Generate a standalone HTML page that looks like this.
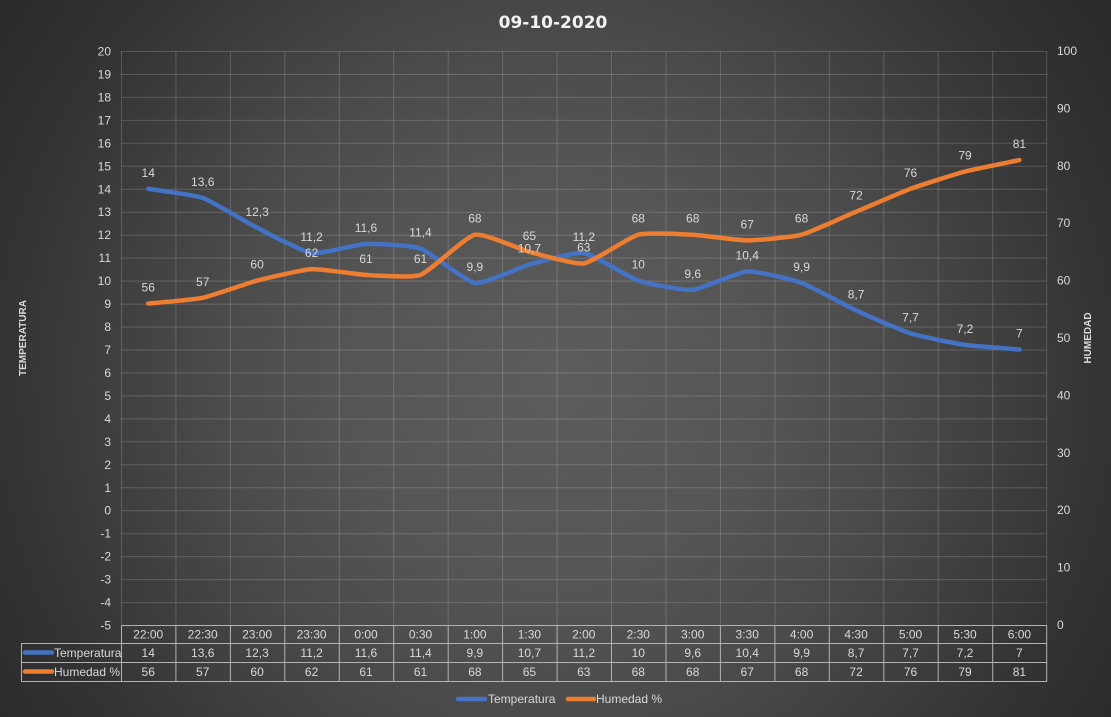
<!DOCTYPE html>
<html><head><meta charset="utf-8"><style>
html,body{margin:0;padding:0;}
body{width:1111px;height:717px;overflow:hidden;background:#3a3a3a;}
svg{display:block;font-family:"Liberation Sans","DejaVu Sans",sans-serif;}
</style></head><body>
<svg width="1111" height="717" viewBox="0 0 1111 717" xmlns="http://www.w3.org/2000/svg">
<defs>
<radialGradient id="bg" gradientUnits="userSpaceOnUse" cx="555" cy="380" r="690">
<stop offset="0" stop-color="#5c5c5c"/>
<stop offset="0.3" stop-color="#555555"/>
<stop offset="0.5" stop-color="#4a4a4a"/>
<stop offset="0.8" stop-color="#333333"/>
<stop offset="1" stop-color="#292929"/>
</radialGradient>
</defs>
<rect x="0" y="0" width="1111" height="717" fill="url(#bg)"/>

<!-- horizontal gridlines -->
<g stroke="rgba(255,255,255,0.17)" stroke-width="1">
<line x1="121" y1="51.5" x2="1046.7" y2="51.5"/>
<line x1="121" y1="74.5" x2="1046.7" y2="74.5"/>
<line x1="121" y1="97.4" x2="1046.7" y2="97.4"/>
<line x1="121" y1="120.4" x2="1046.7" y2="120.4"/>
<line x1="121" y1="143.3" x2="1046.7" y2="143.3"/>
<line x1="121" y1="166.3" x2="1046.7" y2="166.3"/>
<line x1="121" y1="189.3" x2="1046.7" y2="189.3"/>
<line x1="121" y1="212.2" x2="1046.7" y2="212.2"/>
<line x1="121" y1="235.2" x2="1046.7" y2="235.2"/>
<line x1="121" y1="258.1" x2="1046.7" y2="258.1"/>
<line x1="121" y1="281.1" x2="1046.7" y2="281.1"/>
<line x1="121" y1="304.1" x2="1046.7" y2="304.1"/>
<line x1="121" y1="327.0" x2="1046.7" y2="327.0"/>
<line x1="121" y1="350.0" x2="1046.7" y2="350.0"/>
<line x1="121" y1="373.0" x2="1046.7" y2="373.0"/>
<line x1="121" y1="395.9" x2="1046.7" y2="395.9"/>
<line x1="121" y1="418.9" x2="1046.7" y2="418.9"/>
<line x1="121" y1="441.8" x2="1046.7" y2="441.8"/>
<line x1="121" y1="464.8" x2="1046.7" y2="464.8"/>
<line x1="121" y1="487.8" x2="1046.7" y2="487.8"/>
<line x1="121" y1="510.7" x2="1046.7" y2="510.7"/>
<line x1="121" y1="533.7" x2="1046.7" y2="533.7"/>
<line x1="121" y1="556.6" x2="1046.7" y2="556.6"/>
<line x1="121" y1="579.6" x2="1046.7" y2="579.6"/>
<line x1="121" y1="602.6" x2="1046.7" y2="602.6"/>
</g>
<!-- vertical gridlines -->
<g stroke="rgba(255,255,255,0.17)" stroke-width="1">
<line x1="121.5" y1="51" x2="121.5" y2="625"/>
<line x1="175.9" y1="51" x2="175.9" y2="625"/>
<line x1="230.4" y1="51" x2="230.4" y2="625"/>
<line x1="284.8" y1="51" x2="284.8" y2="625"/>
<line x1="339.3" y1="51" x2="339.3" y2="625"/>
<line x1="393.7" y1="51" x2="393.7" y2="625"/>
<line x1="448.2" y1="51" x2="448.2" y2="625"/>
<line x1="502.6" y1="51" x2="502.6" y2="625"/>
<line x1="557.1" y1="51" x2="557.1" y2="625"/>
<line x1="611.5" y1="51" x2="611.5" y2="625"/>
<line x1="666.0" y1="51" x2="666.0" y2="625"/>
<line x1="720.4" y1="51" x2="720.4" y2="625"/>
<line x1="774.9" y1="51" x2="774.9" y2="625"/>
<line x1="829.3" y1="51" x2="829.3" y2="625"/>
<line x1="883.8" y1="51" x2="883.8" y2="625"/>
<line x1="938.2" y1="51" x2="938.2" y2="625"/>
<line x1="992.7" y1="51" x2="992.7" y2="625"/>
<line x1="1046.7" y1="51" x2="1046.7" y2="625"/>
</g>

<!-- title -->
<text x="553" y="28" text-anchor="middle" font-size="17" font-weight="bold" fill="#f2f2f2" style="font-family:'DejaVu Sans','Liberation Sans',sans-serif">09-10-2020</text>

<!-- left axis labels -->
<g font-size="12" fill="#d9d9d9" text-anchor="end">
<text x="111" y="55.5">20</text>
<text x="111" y="78.5">19</text>
<text x="111" y="101.4">18</text>
<text x="111" y="124.4">17</text>
<text x="111" y="147.3">16</text>
<text x="111" y="170.3">15</text>
<text x="111" y="193.3">14</text>
<text x="111" y="216.2">13</text>
<text x="111" y="239.2">12</text>
<text x="111" y="262.1">11</text>
<text x="111" y="285.1">10</text>
<text x="111" y="308.1">9</text>
<text x="111" y="331.0">8</text>
<text x="111" y="354.0">7</text>
<text x="111" y="377.0">6</text>
<text x="111" y="399.9">5</text>
<text x="111" y="422.9">4</text>
<text x="111" y="445.8">3</text>
<text x="111" y="468.8">2</text>
<text x="111" y="491.8">1</text>
<text x="111" y="514.7">0</text>
<text x="111" y="537.7">-1</text>
<text x="111" y="560.6">-2</text>
<text x="111" y="583.6">-3</text>
<text x="111" y="606.6">-4</text>
<text x="111" y="629.5">-5</text>
</g>

<!-- right axis labels -->
<g font-size="12" fill="#d9d9d9">
<text x="1057" y="629">0</text>
<text x="1057" y="571.6">10</text>
<text x="1057" y="514.2">20</text>
<text x="1057" y="456.8">30</text>
<text x="1057" y="399.4">40</text>
<text x="1057" y="342">50</text>
<text x="1057" y="284.6">60</text>
<text x="1057" y="227.2">70</text>
<text x="1057" y="169.8">80</text>
<text x="1057" y="112.4">90</text>
<text x="1057" y="55">100</text>
</g>

<!-- axis titles -->
<text transform="translate(26,338) rotate(-90)" text-anchor="middle" font-size="10" font-weight="bold" fill="#d9d9d9">TEMPERATURA</text>
<text transform="translate(1091,338) rotate(-90)" text-anchor="middle" font-size="10" font-weight="bold" fill="#d9d9d9">HUMEDAD</text>

<!-- series -->
<path d="M148.2,188.8 C152.7,189.6 193.6,194.7 202.7,197.9 C211.8,201.2 248.0,223.2 257.1,227.8 C266.2,232.4 302.5,251.7 311.6,253.0 C320.7,254.3 356.9,244.3 366.0,243.9 C375.1,243.5 411.4,245.3 420.5,248.5 C429.6,251.8 465.8,281.6 474.9,282.9 C484.0,284.2 520.3,267.0 529.4,264.5 C538.5,262.0 574.7,251.7 583.8,253.0 C592.9,254.3 629.2,277.5 638.3,280.6 C647.4,283.7 683.6,290.6 692.7,289.8 C701.8,289.0 738.1,272.0 747.2,271.4 C756.3,270.8 792.5,279.7 801.6,282.9 C810.7,286.2 847.0,306.2 856.1,310.4 C865.2,314.6 901.4,330.5 910.5,333.4 C919.6,336.3 955.9,343.6 965.0,344.9 C974.1,346.2 1014.9,349.1 1019.4,349.5" fill="none" stroke="#4472c4" stroke-width="4.5" stroke-linecap="round" stroke-linejoin="round"/>
<path d="M148.2,303.6 C152.7,303.1 193.6,299.7 202.7,297.8 C211.8,295.9 248.0,283.0 257.1,280.6 C266.2,278.2 302.5,269.6 311.6,269.1 C320.7,268.6 356.9,274.4 366.0,274.9 C375.1,275.4 411.4,278.3 420.5,274.9 C429.6,271.6 465.8,236.6 474.9,234.7 C484.0,232.8 520.3,249.5 529.4,251.9 C538.5,254.3 574.7,264.8 583.8,263.4 C592.9,262.0 629.2,237.1 638.3,234.7 C647.4,232.3 683.6,234.2 692.7,234.7 C701.8,235.2 738.1,240.4 747.2,240.4 C756.3,240.4 792.5,237.1 801.6,234.7 C810.7,232.3 847.0,215.5 856.1,211.7 C865.2,207.9 901.4,192.2 910.5,188.8 C919.6,185.5 955.9,173.9 965.0,171.5 C974.1,169.1 1014.9,161.1 1019.4,160.1" fill="none" stroke="#ed7d31" stroke-width="4.5" stroke-linecap="round" stroke-linejoin="round"/>

<!-- temperature data labels -->
<g font-size="12" fill="#d9d9d9" text-anchor="middle">
<text x="148.2" y="176.8">14</text>
<text x="202.7" y="185.9">13,6</text>
<text x="257.1" y="215.8">12,3</text>
<text x="311.6" y="241">11,2</text>
<text x="366.0" y="231.9">11,6</text>
<text x="420.5" y="236.5">11,4</text>
<text x="474.9" y="270.9">9,9</text>
<text x="529.4" y="252.5">10,7</text>
<text x="583.8" y="241">11,2</text>
<text x="638.3" y="268.6">10</text>
<text x="692.7" y="277.8">9,6</text>
<text x="747.2" y="259.4">10,4</text>
<text x="801.6" y="270.9">9,9</text>
<text x="856.1" y="298.4">8,7</text>
<text x="910.5" y="321.4">7,7</text>
<text x="965.0" y="332.9">7,2</text>
<text x="1019.4" y="337.5">7</text>
</g>
<!-- humidity data labels -->
<g font-size="12" fill="#d9d9d9" text-anchor="middle">
<text x="148.2" y="291.6">56</text>
<text x="202.7" y="285.8">57</text>
<text x="257.1" y="268.6">60</text>
<text x="311.6" y="257.1">62</text>
<text x="366.0" y="262.9">61</text>
<text x="420.5" y="262.9">61</text>
<text x="474.9" y="222.7">68</text>
<text x="529.4" y="239.9">65</text>
<text x="583.8" y="251.4">63</text>
<text x="638.3" y="222.7">68</text>
<text x="692.7" y="222.7">68</text>
<text x="747.2" y="228.4">67</text>
<text x="801.6" y="222.7">68</text>
<text x="856.1" y="199.7">72</text>
<text x="910.5" y="176.8">76</text>
<text x="965.0" y="159.5">79</text>
<text x="1019.4" y="148.1">81</text>
</g>

<!-- data table -->
<g stroke="#b3b3b3" stroke-width="1" fill="none">
<line x1="121" y1="625.5" x2="1047" y2="625.5"/>
<line x1="21" y1="643.5" x2="1047" y2="643.5"/>
<line x1="21" y1="662.5" x2="1047" y2="662.5"/>
<line x1="21" y1="681.5" x2="1047" y2="681.5"/>
<line x1="21.5" y1="643" x2="21.5" y2="682"/>
<line x1="121.5" y1="625" x2="121.5" y2="682"/>
<line x1="175.9" y1="625" x2="175.9" y2="682"/>
<line x1="230.4" y1="625" x2="230.4" y2="682"/>
<line x1="284.8" y1="625" x2="284.8" y2="682"/>
<line x1="339.3" y1="625" x2="339.3" y2="682"/>
<line x1="393.7" y1="625" x2="393.7" y2="682"/>
<line x1="448.2" y1="625" x2="448.2" y2="682"/>
<line x1="502.6" y1="625" x2="502.6" y2="682"/>
<line x1="557.1" y1="625" x2="557.1" y2="682"/>
<line x1="611.5" y1="625" x2="611.5" y2="682"/>
<line x1="666.0" y1="625" x2="666.0" y2="682"/>
<line x1="720.4" y1="625" x2="720.4" y2="682"/>
<line x1="774.9" y1="625" x2="774.9" y2="682"/>
<line x1="829.3" y1="625" x2="829.3" y2="682"/>
<line x1="883.8" y1="625" x2="883.8" y2="682"/>
<line x1="938.2" y1="625" x2="938.2" y2="682"/>
<line x1="992.7" y1="625" x2="992.7" y2="682"/>
<line x1="1046.7" y1="625" x2="1046.7" y2="682"/>
</g>
<g font-size="12" fill="#d9d9d9" text-anchor="middle">
<text x="148.2" y="638.5">22:00</text>
<text x="202.7" y="638.5">22:30</text>
<text x="257.1" y="638.5">23:00</text>
<text x="311.6" y="638.5">23:30</text>
<text x="366.0" y="638.5">0:00</text>
<text x="420.5" y="638.5">0:30</text>
<text x="474.9" y="638.5">1:00</text>
<text x="529.4" y="638.5">1:30</text>
<text x="583.8" y="638.5">2:00</text>
<text x="638.3" y="638.5">2:30</text>
<text x="692.7" y="638.5">3:00</text>
<text x="747.2" y="638.5">3:30</text>
<text x="801.6" y="638.5">4:00</text>
<text x="856.1" y="638.5">4:30</text>
<text x="910.5" y="638.5">5:00</text>
<text x="965.0" y="638.5">5:30</text>
<text x="1019.4" y="638.5">6:00</text>

<text x="148.2" y="657.2">14</text>
<text x="202.7" y="657.2">13,6</text>
<text x="257.1" y="657.2">12,3</text>
<text x="311.6" y="657.2">11,2</text>
<text x="366.0" y="657.2">11,6</text>
<text x="420.5" y="657.2">11,4</text>
<text x="474.9" y="657.2">9,9</text>
<text x="529.4" y="657.2">10,7</text>
<text x="583.8" y="657.2">11,2</text>
<text x="638.3" y="657.2">10</text>
<text x="692.7" y="657.2">9,6</text>
<text x="747.2" y="657.2">10,4</text>
<text x="801.6" y="657.2">9,9</text>
<text x="856.1" y="657.2">8,7</text>
<text x="910.5" y="657.2">7,7</text>
<text x="965.0" y="657.2">7,2</text>
<text x="1019.4" y="657.2">7</text>

<text x="148.2" y="676.2">56</text>
<text x="202.7" y="676.2">57</text>
<text x="257.1" y="676.2">60</text>
<text x="311.6" y="676.2">62</text>
<text x="366.0" y="676.2">61</text>
<text x="420.5" y="676.2">61</text>
<text x="474.9" y="676.2">68</text>
<text x="529.4" y="676.2">65</text>
<text x="583.8" y="676.2">63</text>
<text x="638.3" y="676.2">68</text>
<text x="692.7" y="676.2">68</text>
<text x="747.2" y="676.2">67</text>
<text x="801.6" y="676.2">68</text>
<text x="856.1" y="676.2">72</text>
<text x="910.5" y="676.2">76</text>
<text x="965.0" y="676.2">79</text>
<text x="1019.4" y="676.2">81</text>
</g>
<!-- table legend keys -->
<line x1="25" y1="652.5" x2="52" y2="652.5" stroke="#4472c4" stroke-width="4.5" stroke-linecap="round"/>
<line x1="25" y1="671.5" x2="52" y2="671.5" stroke="#ed7d31" stroke-width="4.5" stroke-linecap="round"/>
<text x="54" y="657.2" font-size="12" fill="#d9d9d9">Temperatura</text>
<text x="54" y="676.2" font-size="12" fill="#d9d9d9">Humedad %</text>

<!-- bottom legend -->
<line x1="458" y1="699" x2="485" y2="699" stroke="#4472c4" stroke-width="4.5" stroke-linecap="round"/>
<text x="488" y="703" font-size="12" fill="#d9d9d9">Temperatura</text>
<line x1="568" y1="699" x2="594" y2="699" stroke="#ed7d31" stroke-width="4.5" stroke-linecap="round"/>
<text x="596" y="703" font-size="12" fill="#d9d9d9">Humedad %</text>
</svg>
</body></html>
